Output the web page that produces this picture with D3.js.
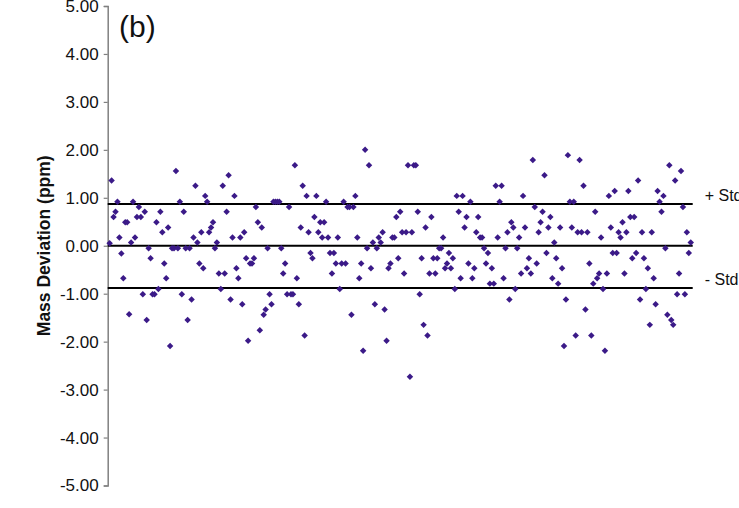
<!DOCTYPE html>
<html>
<head>
<meta charset="utf-8">
<script src="https://cdn.jsdelivr.net/npm/d3@7"></script>
<style>
  body { margin: 0; background: #fff; }
  svg { display: block; font-family: "Liberation Sans", Arial, sans-serif; }
</style>
</head>
<body>
<svg id="chart" width="739" height="508"></svg>
<script>

    // mass deviation (ppm) per scan, scan number = position + 1
    var massDev = [
        0.05, 1.36, 0.60, 0.71, 0.92, 0.17, -0.16, -0.68, 0.49, 0.49,
        -1.43, 0.07, 0.92, 0.17, 0.60, 0.81, 0.60, -1.01, 0.71, -1.55,
        -0.05, -0.26, -1.01, -1.01, 0.49, -0.90, 0.71, 0.28, -0.37, -0.68,
        0.38, -2.09, -0.05, -0.05, 1.56, -0.05, 0.92, -1.01, 0.71, -0.05,
        -1.55, -0.05, -1.12, 0.17, 1.25, 0.07, -0.37, 0.28, -0.47, 1.04,
        0.92, 0.28, 0.38, 0.49, -0.05, 0.07, -0.58, -0.90, 1.25, -0.58,
        0.71, 1.47, -1.12, 0.17, 1.04, -0.47, -0.68, 0.17, -1.22, 0.28,
        -0.26, -1.98, -0.37, -0.37, -0.26, 0.81, 0.49, -1.76, 0.38, -1.44,
        -1.33, -0.05, -1.01, -1.22, 0.92, 0.92, 0.92, 0.92, -0.05, -0.58,
        -0.37, -1.01, 0.81, -1.01, -1.01, 1.68, -0.68, -1.22, 0.38, 1.25,
        -1.87, 1.04, 0.28, -0.15, -0.26, 0.60, 1.04, 0.28, 0.49, 0.17,
        0.49, 0.92, 0.17, -0.15, -0.58, -0.15, -0.37, 0.17, -0.90, -0.37,
        0.92, -0.37, 0.81, 0.81, -1.44, 0.81, 1.04, 0.17, -0.68, -0.37,
        -2.19, 2.00, -0.05, 1.68, -0.47, 0.07, -1.22, -0.05, 0.17, 0.07,
        0.28, -1.33, -1.98, -0.47, -0.37, 0.17, 0.17, 0.60, -0.26, 0.71,
        0.28, -0.58, 0.28, 1.68, -2.73, 0.28, 1.68, 1.68, 0.71, -1.01,
        -0.26, -1.65, 0.38, -1.87, -0.58, 0.60, -0.26, -0.58, -0.26, -0.05,
        -0.05, 0.17, -0.47, -0.37, -0.15, -0.47, -0.26, -0.90, 1.04, 0.71,
        -0.68, 1.04, 0.38, 0.60, -0.37, 0.92, -0.68, -0.47, 0.28, 0.60,
        0.17, 0.17, -0.05, -0.37, -0.15, -0.79, -0.47, -0.79, 1.25, 0.17,
        0.92, 1.25, -0.68, -0.05, 0.28, -1.12, 0.49, 0.38, -0.90, -0.05,
        0.17, -0.58, 1.04, 0.38, -0.47, -0.26, -0.58, 1.79, 0.81, -0.37,
        0.28, 0.49, 0.71, 1.47, -0.15, 0.38, 0.60, -0.68, 0.07, -0.26,
        -0.79, 0.38, -0.47, -2.09, -1.12, 1.89, 0.92, 0.38, 0.92, -1.87,
        0.28, 1.79, 0.28, 1.25, -1.33, 0.28, -0.37, -1.87, -0.79, 0.71,
        -0.68, -0.58, 0.17, -0.90, -2.19, -0.58, 1.04, 0.38, -0.15, 1.14,
        -0.15, 0.28, 0.17, 0.49, -0.58, 0.28, 1.14, 0.60, -0.26, 0.60,
        -0.15, 1.36, -1.12, 0.28, -0.26, -0.90, -0.47, -1.65, 0.28, -0.68,
        -1.22, 1.14, 0.92, 0.71, 1.04, -0.05, -1.44, 1.68, -1.55, -1.65,
        1.36, -1.01, -0.58, 1.56, 0.81, -1.01, 0.28, -0.15, 0.07
    ];

    var yTicks = [-5, -4, -3, -2, -1, 0, 1, 2, 3, 4, 5];

    // horizontal reference lines: mean and +/- one standard deviation
    var refValues = [0.87, 0, -0.88];
    var refLabels = ["+ Std", "", "- Std"];

    var panelLabel = "(b)";
    var yTitle = "Mass Deviation (ppm)";

    var svg = d3.select("#chart");

    var x = d3.scaleLinear().domain([0, 300]).range([107.7, 692.7]);
    var y = d3.scaleLinear().domain([-5, 5]).range([485.5, 6]);

    // y axis
    var yAxis = svg.append("g")
        .attr("transform", "translate(" + x(0) + ",0)")
        .call(d3.axisLeft(y)
            .tickValues(yTicks)
            .tickSize(4)
            .tickPadding(5)
            .tickFormat(function (d) { return d.toFixed(2); }));

    yAxis.select(".domain").attr("stroke", "#808080").attr("stroke-width", 1.5);
    yAxis.selectAll(".tick line").attr("stroke", "#808080").attr("stroke-width", 1.2);
    yAxis.selectAll(".tick text")
        .attr("fill", "#111")
        .style("font-size", "17px");

    // reference lines
    svg.selectAll(".ref-line")
        .data(refValues)
        .enter()
        .append("line")
        .attr("class", "ref-line")
        .attr("x1", x(0))
        .attr("x2", x(300))
        .attr("y1", function (d) { return y(d); })
        .attr("y2", function (d) { return y(d); })
        .attr("stroke", "#000")
        .attr("stroke-width", 2);

    svg.selectAll(".ref-label")
        .data(refValues)
        .enter()
        .append("text")
        .attr("class", "ref-label")
        .attr("x", x(300) + 12)
        .attr("y", function (d) { return y(d) - 3; })
        .style("font-size", "16px")
        .attr("fill", "#111")
        .text(function (d, i) { return refLabels[i]; });

    // points
    svg.append("g")
        .selectAll("path")
        .data(massDev)
        .enter()
        .append("path")
        .attr("d", d3.symbol(d3.symbolSquare, 21))
        .attr("transform", function (d, i) {
            return "translate(" + x(i + 1) + "," + y(d) + ") rotate(45)";
        })
        .attr("fill", "#3b1a88");

    // panel label
    svg.append("text")
        .attr("x", 119)
        .attr("y", 37)
        .style("font-size", "30px")
        .attr("fill", "#111")
        .text(panelLabel);

    // axis title
    svg.append("text")
        .attr("transform", "translate(50," + y(0) + ") rotate(-90)")
        .attr("text-anchor", "middle")
        .style("font-size", "17.5px")
        .style("font-weight", "bold")
        .attr("fill", "#111")
        .text(yTitle);

</script>
</body>
</html>
